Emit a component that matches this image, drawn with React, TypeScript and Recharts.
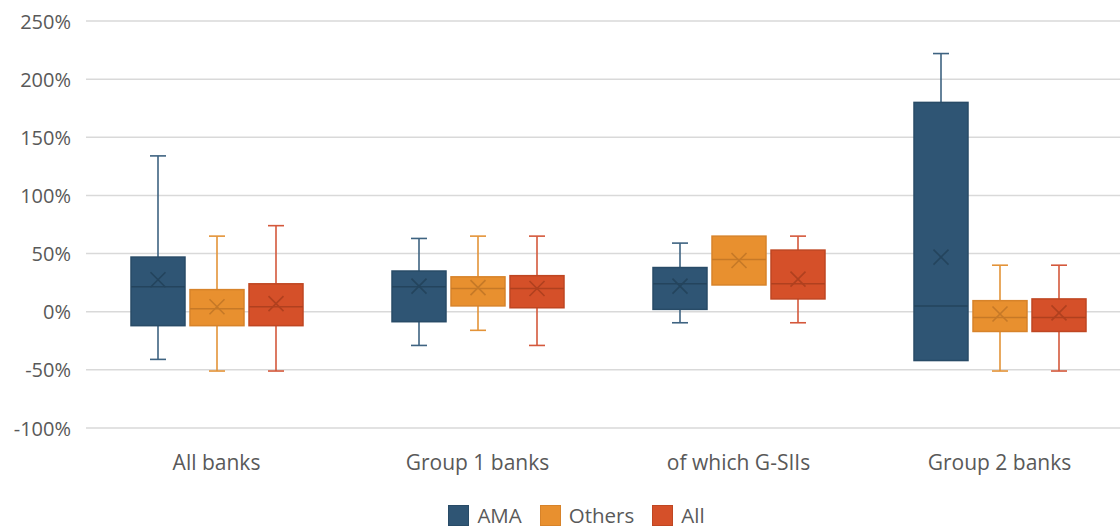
import React from 'react';
import { ComposedChart, Bar, XAxis, YAxis, CartesianGrid, Legend } from 'recharts';

// Box-and-whisker summary per bank group: min, Q1, median, Q3, max and mean (as fractions)
const categories = ['All banks', 'Group 1 banks', 'of which G-SIIs', 'Group 2 banks'];
const yTicks = [-1, -0.5, 0, 0.5, 1, 1.5, 2, 2.5];

const amaMin = [-0.41, -0.29, -0.095, -0.42];
const amaQ1 = [-0.12, -0.086, 0.02, -0.42];
const amaMedian = [0.215, 0.215, 0.24, 0.05];
const amaQ3 = [0.47, 0.35, 0.38, 1.8];
const amaMax = [1.34, 0.63, 0.59, 2.22];
const amaMean = [0.275, 0.22, 0.22, 0.47];

const othersMin = [-0.51, -0.16, 0.23, -0.51];
const othersQ1 = [-0.12, 0.05, 0.23, -0.17];
const othersMedian = [0.026, 0.2, 0.45, -0.05];
const othersQ3 = [0.19, 0.3, 0.65, 0.095];
const othersMax = [0.65, 0.65, 0.65, 0.4];
const othersMean = [0.043, 0.207, 0.44, -0.02];

const allMin = [-0.51, -0.29, -0.095, -0.51];
const allQ1 = [-0.12, 0.034, 0.11, -0.17];
const allMedian = [0.043, 0.2, 0.24, -0.05];
const allQ3 = [0.24, 0.31, 0.53, 0.11];
const allMax = [0.74, 0.65, 0.65, 0.4];
const allMean = [0.07, 0.2, 0.28, -0.01];

type Stats = { min: number; q1: number; median: number; q3: number; max: number; mean: number };

const stats = (
  mins: number[], q1s: number[], meds: number[], q3s: number[], maxs: number[], means: number[], i: number
): Stats => ({ min: mins[i], q1: q1s[i], median: meds[i], q3: q3s[i], max: maxs[i], mean: means[i] });

const data = categories.map((name, i) => {
  const ama = stats(amaMin, amaQ1, amaMedian, amaQ3, amaMax, amaMean, i);
  const others = stats(othersMin, othersQ1, othersMedian, othersQ3, othersMax, othersMean, i);
  const all = stats(allMin, allQ1, allMedian, allQ3, allMax, allMean, i);
  return {
    name,
    ama,
    others,
    all,
    amaRange: [ama.min, ama.max],
    othersRange: [others.min, others.max],
    allRange: [all.min, all.max],
  };
});

const palette = {
  ama: { fill: '#2F5574', border: '#284B67', dark: '#24445D', whisker: '#3E6381' },
  others: { fill: '#E8902F', border: '#D7832A', dark: '#C67927', whisker: '#E39338' },
  all: { fill: '#D55029', border: '#BF4622', dark: '#B0401F', whisker: '#D4583B' },
};

type SeriesKey = 'ama' | 'others' | 'all';

// The bar spans min..max; box, median and mean are placed along the same pixel scale.
const makeBoxShape = (key: SeriesKey) => (props: any) => {
  const { x, y, width, height, payload } = props;
  const s: Stats = payload[key];
  const c = palette[key];
  const top = Math.min(y, y + height);
  const h = Math.abs(height);
  const span = s.max - s.min;
  const py = (v: number) => (span === 0 ? top : top + ((s.max - v) / span) * h);
  const cx = x + width / 2;
  const capHalf = 8;
  const yMax = py(s.max);
  const yMin = py(s.min);
  const yQ3 = py(s.q3);
  const yQ1 = py(s.q1);
  const yMed = py(s.median);
  const yMean = py(s.mean);
  const xs = 7.5;
  return (
    <g>
      {s.max > s.q3 && (
        <g stroke={c.whisker} strokeWidth={1.6}>
          <line x1={cx} x2={cx} y1={yMax} y2={yQ3} />
          <line x1={cx - capHalf} x2={cx + capHalf} y1={yMax} y2={yMax} />
        </g>
      )}
      {s.min < s.q1 && (
        <g stroke={c.whisker} strokeWidth={1.6}>
          <line x1={cx} x2={cx} y1={yQ1} y2={yMin} />
          <line x1={cx - capHalf} x2={cx + capHalf} y1={yMin} y2={yMin} />
        </g>
      )}
      <rect x={x} y={yQ3} width={width} height={yQ1 - yQ3} fill={c.fill} stroke={c.border} strokeWidth={1.5} />
      <line x1={x} x2={x + width} y1={yMed} y2={yMed} stroke={c.dark} strokeWidth={1.5} />
      <g stroke={c.dark} strokeWidth={1.6}>
        <line x1={cx - xs} x2={cx + xs} y1={yMean - xs} y2={yMean + xs} />
        <line x1={cx - xs} x2={cx + xs} y1={yMean + xs} y2={yMean - xs} />
      </g>
    </g>
  );
};

const fontFamily = '"Open Sans", "Noto Sans", sans-serif';

const YTick = (props: any) => {
  const { y, payload } = props;
  return (
    <text x={71} y={y} dy={7.5} textAnchor="end" fill="#595959" fontSize={20} fontFamily={fontFamily}>
      {`${Math.round(payload.value * 100)}%`}
    </text>
  );
};

const XTick = (props: any) => {
  const { x, payload } = props;
  return (
    <text x={x} y={470} textAnchor="middle" fill="#595959" fontSize={21} fontFamily={fontFamily}>
      {payload.value}
    </text>
  );
};

const legendItems: { key: SeriesKey; label: string }[] = [
  { key: 'ama', label: 'AMA' },
  { key: 'others', label: 'Others' },
  { key: 'all', label: 'All' },
];

const LegendContent = () => (
  <div
    style={{
      display: 'flex',
      justifyContent: 'center',
      alignItems: 'center',
      height: 22,
      fontFamily,
      fontSize: 20.5,
      lineHeight: '22px',
      color: '#595959',
    }}
  >
    {legendItems.map((it, i) => (
      <div key={it.key} style={{ display: 'flex', alignItems: 'center', marginLeft: i === 0 ? 0 : 18 }}>
        <span
          style={{
            display: 'inline-block',
            width: 19,
            height: 19,
            background: palette[it.key].fill,
            border: `1px solid ${palette[it.key].border}`,
            marginRight: 8,
          }}
        />
        <span>{it.label}</span>
      </div>
    ))}
  </div>
);

export default function App() {
  return (
    <div style={{ position: 'fixed', left: 0, top: 0, width: 1120, height: 530, overflow: 'hidden', background: '#fff' }}>
      <ComposedChart
        width={1138}
        height={530}
        data={data}
        margin={{ top: 21, right: 8, bottom: 0, left: 0 }}
        barSize={54}
        barGap={5}
      >
        <CartesianGrid vertical={false} stroke="#D9D9D9" strokeWidth={1.5} />
        <XAxis dataKey="name" axisLine={false} tickLine={false} height={102} tick={<XTick />} interval={0} />
        <YAxis
          domain={[-1, 2.5]}
          ticks={yTicks}
          axisLine={false}
          tickLine={false}
          width={86}
          tick={<YTick />}
          interval={0}
          allowDataOverflow
        />
        <Legend
          layout="horizontal"
          verticalAlign="middle"
          align="center"
          content={<LegendContent />}
          wrapperStyle={{ top: 504, left: 0, width: 1153, height: 22 }}
        />
        <Bar dataKey="amaRange" name="AMA" fill={palette.ama.fill} shape={makeBoxShape('ama')} isAnimationActive={false} />
        <Bar dataKey="othersRange" name="Others" fill={palette.others.fill} shape={makeBoxShape('others')} isAnimationActive={false} />
        <Bar dataKey="allRange" name="All" fill={palette.all.fill} shape={makeBoxShape('all')} isAnimationActive={false} />
      </ComposedChart>
    </div>
  );
}
